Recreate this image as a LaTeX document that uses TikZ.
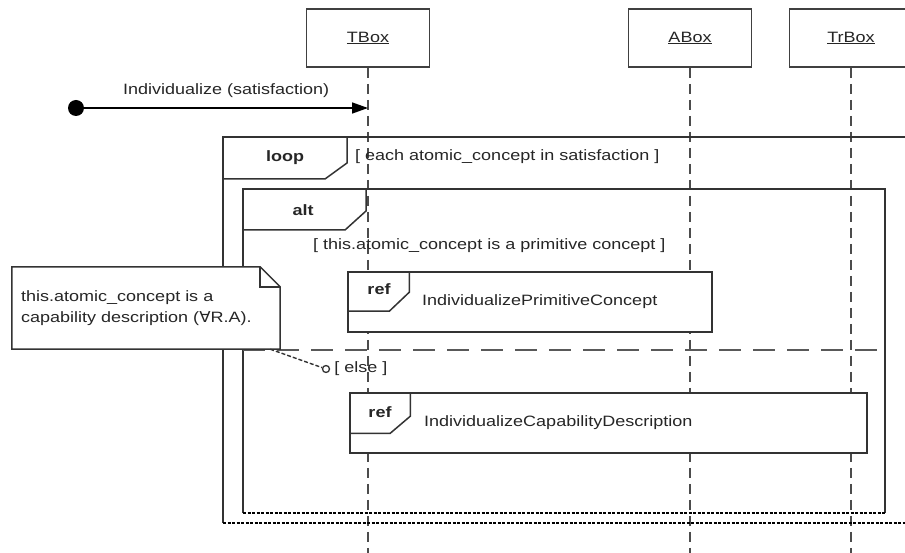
\documentclass[tikz,border=0pt]{standalone}
\usepackage{fontspec}
\setmainfont[FakeStretch=1.2]{Liberation Sans}
\newfontfamily\dejavu[FakeStretch=1.1]{DejaVu Sans}
\usetikzlibrary{arrows.meta,positioning,calc}

\begin{document}
\begin{tikzpicture}[x=1pt, y=-1pt, font=\fontsize{15}{21}\selectfont, text=black!85,
    lifebox/.style={rectangle, draw=black!75, line width=1.6pt, fill=white, minimum width=123pt, minimum height=58pt},
    lifeline/.style={draw=black!70, line width=1.6pt, dash pattern=on 10pt off 6pt},
    frame/.style={draw=black!80, line width=1.5pt},
    fend/.style={draw=black, line width=2.2pt, dash pattern=on 3pt off 1.5pt},
    tag/.style={font=\fontsize{15}{18}\selectfont\bfseries},
    guard/.style={anchor=west, inner sep=0pt},
    refbox/.style={rectangle, draw=black!80, line width=1.5pt, fill=white, minimum height=60pt},
    msg/.style={draw, -{Triangle[length=16pt,width=11pt]}, line width=1.5pt}]
    \useasboundingbox (0,0) rectangle (905,553);

    % Lifelines
    \node [lifebox] (tbox) at (368,38) {\underline{TBox}};
    \node [lifebox] (abox) at (690,38) {\underline{ABox}};
    \node [lifebox] (trbox) at (851,38) {\underline{TrBox}};
    \foreach \b in {tbox,abox,trbox}
        \draw [lifeline] (\b.south) -- ++(0,486);

    % Message
    \node [circle, fill=black, inner sep=0pt, minimum size=16pt] (start) at (76,108) {};
    \coordinate (tin) at (tbox.south |- start);
    \draw [msg] (start) -- node[above=6pt] {Individualize (satisfaction)} (tin);

    % Loop frame
    \draw [frame] (905,137) -- (223,137) -- (223,523);
    \draw [fend] (223,523) -- (905,523);
    \draw [frame] (223,179) -- (325,179) -- (347,163) -- (347,137);
    \node [tag] (looptag) at (285,158) {loop};
    \node [guard] (loopguard) at (355,157) {[ each atomic\_concept in satisfaction ]};

    % Alt frame
    \draw [frame] (243,513) -- (243,189) -- (885,189) -- (885,513);
    \draw [fend] (243,513) -- (885,513);
    \draw [frame] (243,230) -- (345,230) -- (366,211) -- (366,189);
    \node [tag] (alttag) at (303,210) {alt};
    \node [guard] (altguard) at (313,246) {[ this.atomic\_concept is a primitive concept ]};
    \draw [draw=black!65, line width=1.8pt, dash pattern=on 22pt off 12pt] (243,350) -- (885,350);

    % Interaction uses
    \node [refbox, minimum width=364pt] (ref1) at (530,302) {};
    \draw [frame] ($(ref1.north west)+(0,40)$) -- ++(42,0) -- ++(20,-19) -- ++(0,-21);
    \node [tag] (reftag1) at (379,289) {ref};
    \node [guard] (refname1) at (422,302) {IndividualizePrimitiveConcept};

    \node [circle, draw=black!80, fill=white, line width=1.3pt, inner sep=0pt, minimum size=7pt] (elsept) at (326,369) {};
    \node [guard, right=4pt of elsept] (elseguard) {[ else ]};

    \node [refbox, minimum width=517pt] (ref2) at (608.5,423) {};
    \draw [frame] ($(ref2.north west)+(0,41)$) -- ++(41,0) -- ++(20,-17) -- ++(0,-24);
    \node [tag] (reftag2) at (380,412) {ref};
    \node [guard] (refname2) at (424,423) {IndividualizeCapabilityDescription};

    % Note
    \node [fill=white, minimum width=268pt, minimum height=82pt] (note) at (146,308) {};
    \draw [frame, fill=white] (note.south west) -- (note.north west) -- ($(note.north east)+(-20,0)$)
        -- ($(note.north east)+(0,20)$) -- (note.south east) -- cycle;
    \draw [frame] ($(note.north east)+(-20,0)$) -- ++(0,20) -- ++(20,0);
    \node [anchor=west, align=left, inner sep=0pt] (notetext) at (21,308)
        {this.atomic\_concept is a\\capability description ({\dejavu ∀}R.A).};
    \draw [draw=black!80, line width=1.4pt, dash pattern=on 4pt off 2pt] ([xshift=-10pt]note.south east) -- (elsept);
\end{tikzpicture}
\end{document}
